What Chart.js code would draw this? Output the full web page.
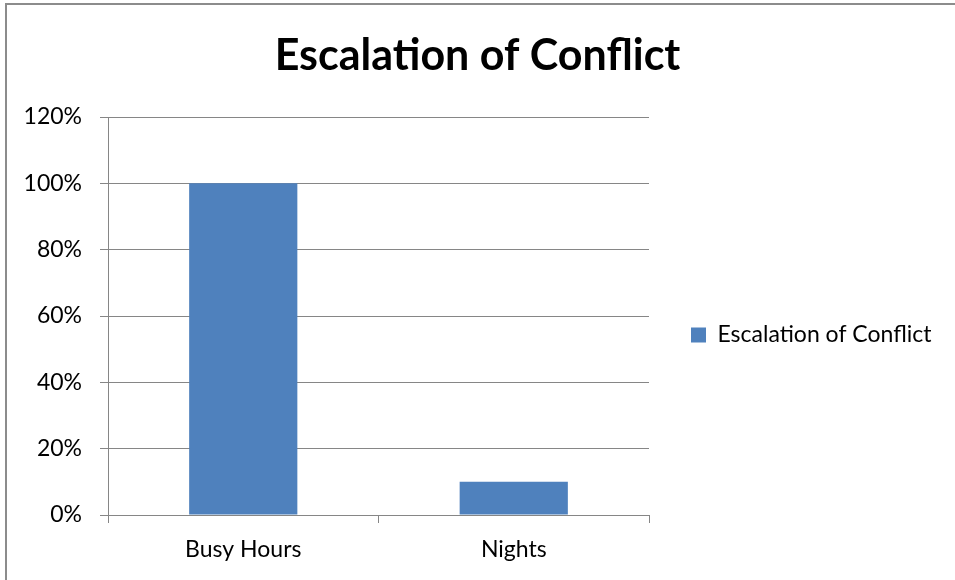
<!DOCTYPE html>
<html>
<head>
<meta charset="utf-8">
<script src="https://cdn.jsdelivr.net/npm/chart.js@4.4.1/dist/chart.umd.min.js"></script>
<style>
html,body{margin:0;padding:0;background:#fff;overflow:hidden;}
#wrap{position:absolute;left:0;top:0;width:955px;height:580px;}
</style>
</head>
<body>
<div id="wrap"><canvas id="c" width="955" height="580"></canvas></div>
<script>
const categories = ["Busy Hours", "Nights"];
const seriesName = "Escalation of Conflict";
const seriesValues = [100, 10];
const yTicks = [0, 20, 40, 60, 80, 100, 120];
const chartTitle = "Escalation of Conflict";

const FONT = "Lato";
const GRID = "#868686";
const TXT = 23;

const borderPlugin = {
  id: 'outerBorder',
  beforeLayout(chart) {
    const lg = chart.legend;
    if (lg && !lg._fixedW) {
      const f = lg.fit.bind(lg);
      lg.fit = function () { f(); this.width = 306; };
      lg._fixedW = true;
    }
  },
  afterLayout(chart) {
    const lg = chart.legend;
    if (lg) { lg.top += 45; lg.bottom += 45; }
  },
  afterDraw(chart) {
    const ctx = chart.ctx;
    ctx.save();
    ctx.strokeStyle = "#8c8c8c";
    ctx.lineWidth = 2;
    ctx.strokeRect(6, 4, 1000, 700);
    ctx.restore();
  }
};

function build() {
  new Chart(document.getElementById('c'), {
    type: 'bar',
    data: {
      labels: categories,
      datasets: [{
        label: seriesName,
        data: seriesValues,
        backgroundColor: "#4f81bd",
        borderWidth: 0,
        barPercentage: 1,
        categoryPercentage: 0.4
      }]
    },
    options: {
      responsive: false,
      animation: false,
      devicePixelRatio: 1,
      layout: { padding: { left: 0, right: 0, top: 0, bottom: 0 } },
      plugins: {
        title: {
          display: true,
          text: chartTitle,
          color: "#000",
          font: { family: FONT, size: 43, weight: 'bold', lineHeight: 1.2 },
          padding: { top: 30, bottom: 35.4 }
        },
        legend: {
          position: 'right',
          align: 'center',
          labels: {
            color: "#000",
            font: { family: FONT, size: TXT },
            boxWidth: 15,
            boxHeight: 15,
            padding: 42
          }
        },
        tooltip: { enabled: false }
      },
      scales: {
        x: {
          afterFit(axis) { axis.height = 65; },
          grid: { display: true, drawOnChartArea: false, drawTicks: true, tickLength: 8, color: GRID, offset: true },
          border: { display: true, color: GRID, width: 1 },
          ticks: { color: "#000", font: { family: FONT, size: TXT }, padding: 13 }
        },
        y: {
          min: 0, max: 120,
          afterFit(axis) { axis.width = 108; },
          afterBuildTicks(axis) { axis.ticks = yTicks.map(v => ({ value: v })); },
          grid: { color: GRID, tickLength: 8, lineWidth: 1 },
          border: { display: true, color: GRID },
          ticks: { color: "#000", font: { family: FONT, size: TXT }, padding: 18,
                   callback: v => v + "%" }
        }
      }
    },
    plugins: [borderPlugin]
  });
}

Promise.all([
  document.fonts.load(TXT + 'px Lato'),
  document.fonts.load('bold 43px Lato')
]).then(build, build);
</script>
</body>
</html>
